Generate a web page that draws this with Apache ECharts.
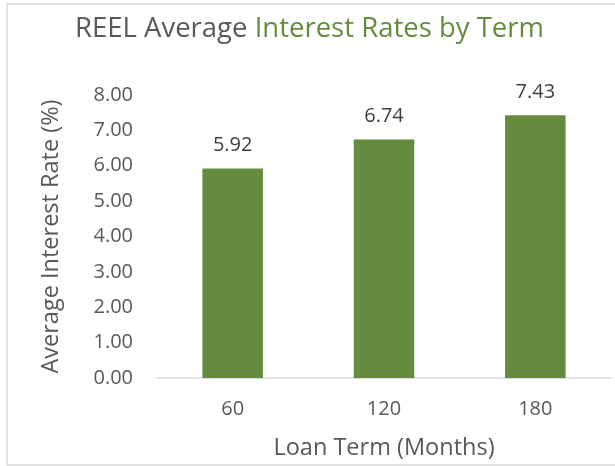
<!DOCTYPE html>
<html>
<head>
<meta charset="utf-8">
<script src="https://cdn.jsdelivr.net/npm/echarts@6/dist/echarts.min.js"></script>
<style>
    html, body { margin: 0; padding: 0; background: #fff; }
    #chart { width: 615px; height: 466px; }
</style>
</head>
<body>
<div id="chart"></div>
<script>
var terms = ['60', '120', '180'];
var rates = [5.92, 6.74, 7.43];
var yTicks = { min: 0, max: 8, step: 1 };

var green = '#658C3E';
var gray = '#595959';
var font = 'Open Sans';

var chart = echarts.init(document.getElementById('chart'));
var option = {
    backgroundColor: '#fff',
    animation: false,
    graphic: [
        {
            type: 'rect',
            shape: { x: 7, y: 4, width: 640, height: 461 },
            style: { fill: 'none', stroke: '#D9D9D9', lineWidth: 1.5 },
            silent: true
        }
    ],
    title: {
        text: '{a|REEL Average }{b|Interest Rates by Term}',
        left: 70,
        top: 10,
        textStyle: {
            rich: {
                a: { color: gray, fontSize: 27.5, fontFamily: font, fontWeight: 'normal' },
                b: { color: green, fontSize: 27.5, fontFamily: font, fontWeight: 'normal' }
            }
        }
    },
    grid: {
        left: 157,
        right: 4,
        top: 95,
        bottom: 88
    },
    xAxis: {
        type: 'category',
        data: terms,
        name: 'Loan Term (Months)',
        nameLocation: 'middle',
        nameGap: 58,
        nameTextStyle: { color: gray, fontSize: 23.5, fontFamily: font },
        axisLine: { lineStyle: { color: '#D9D9D9', width: 1.5 } },
        axisTick: { show: false },
        axisLabel: { color: gray, fontSize: 20, fontFamily: font, margin: 21 }
    },
    yAxis: {
        type: 'value',
        min: yTicks.min,
        max: yTicks.max,
        interval: yTicks.step,
        name: 'Average Interest Rate (%)',
        nameLocation: 'middle',
        nameGap: 94,
        nameTextStyle: { color: gray, fontSize: 23.5, fontFamily: font },
        axisLine: { show: false },
        axisTick: { show: false },
        splitLine: { show: false },
        axisLabel: {
            color: gray,
            fontSize: 20,
            fontFamily: font,
            margin: 24,
            formatter: function (v) { return v.toFixed(2); }
        }
    },
    series: [
        {
            type: 'bar',
            data: rates,
            barWidth: '40%',
            itemStyle: { color: green },
            label: {
                show: true,
                position: 'top',
                distance: 13,
                color: '#404040',
                fontSize: 20,
                fontFamily: font,
                formatter: function (p) { return p.value.toFixed(2); }
            }
        }
    ]
};
chart.setOption(option);
</script>
</body>
</html>
